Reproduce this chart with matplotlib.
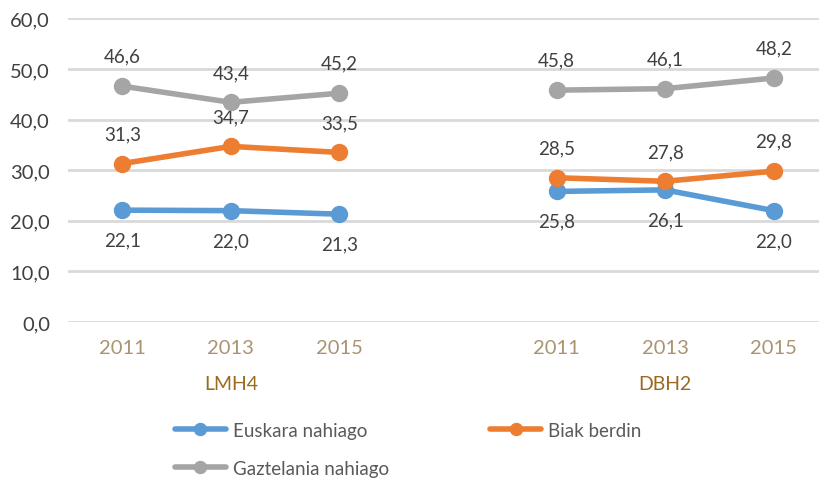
import numpy as np
import matplotlib
matplotlib.use("Agg")
import matplotlib.pyplot as plt
from matplotlib.ticker import FuncFormatter
from matplotlib.transforms import blended_transform_factory

plt.rcParams['font.family'] = ['Lato', 'DejaVu Sans']

years = ["2011", "2013", "2015", "", "2011", "2013", "2015"]
groups = ["LMH4", "DBH2"]
euskara = [22.1, 22.0, 21.3, np.nan, 25.8, 26.1, 22.0]
biak = [31.3, 34.7, 33.5, np.nan, 28.5, 27.8, 29.8]
gaztelania = [46.6, 43.4, 45.2, np.nan, 45.8, 46.1, 48.2]
series_names = ["Euskara nahiago", "Biak berdin", "Gaztelania nahiago"]
colors = ["#5B9BD5", "#ED7D31", "#A5A5A5"]

fig = plt.figure(figsize=(8.19, 4.81), dpi=100)
ax = fig.add_axes([68/819, 158/481, 760/819, 303.7/481])
x = np.arange(len(years))

label_color = "#404040"
handles = []
for vals, name, col, side in zip([euskara, biak, gaztelania], series_names, colors, [-1, 1, 1]):
    h, = ax.plot(x, vals, color=col, lw=4, marker='o', ms=11.5, label=name,
                 solid_capstyle='round', zorder=3)
    handles.append(h)
    for xi, v in zip(x, vals):
        if np.isnan(v):
            continue
        ax.annotate(f"{v:.1f}".replace('.', ','), (xi, v), xytext=(0, 21.5*side),
                    textcoords='offset points', ha='center', va='center',
                    fontsize=13.5, color=label_color)

ax.set_ylim(0, 60)
ax.set_xlim(-0.5, 6.5)
ax.set_yticks(np.arange(0, 61, 10))
ax.yaxis.set_major_formatter(FuncFormatter(lambda v, p: f"{v:.1f}".replace('.', ',')))
ticks = [i for i, y in enumerate(years) if y]
ax.set_xticks(ticks)
ax.set_xticklabels([years[i] for i in ticks])
ax.tick_params(axis='x', length=0, pad=12, labelsize=14.5, labelcolor="#A89470")
ax.tick_params(axis='y', length=0, pad=13, labelsize=14.5, labelcolor="#404040")
ax.grid(axis='y', color="#D9D9D9", lw=2)
ax.set_axisbelow(True)
for s in ax.spines.values():
    s.set_visible(False)

trans = blended_transform_factory(ax.transData, fig.transFigure)
for gx, g in zip([1, 5], groups):
    ax.text(gx, 1 - 385/481, g, transform=trans, ha='center', va='center',
            fontsize=14, color="#9A6A20")

leg = fig.legend([handles[0], handles[2], handles[1]],
                 [series_names[0], series_names[2], series_names[1]],
                 ncol=2, loc='upper left', bbox_to_anchor=(158/819, 1 - 406/481),
                 frameon=False, fontsize=13.5, handlelength=2.7, handletextpad=0.4,
                 columnspacing=5.4, labelspacing=1.1, labelcolor="#595959",
                 markerscale=0.75)

fig.savefig("out.png", dpi=100)
